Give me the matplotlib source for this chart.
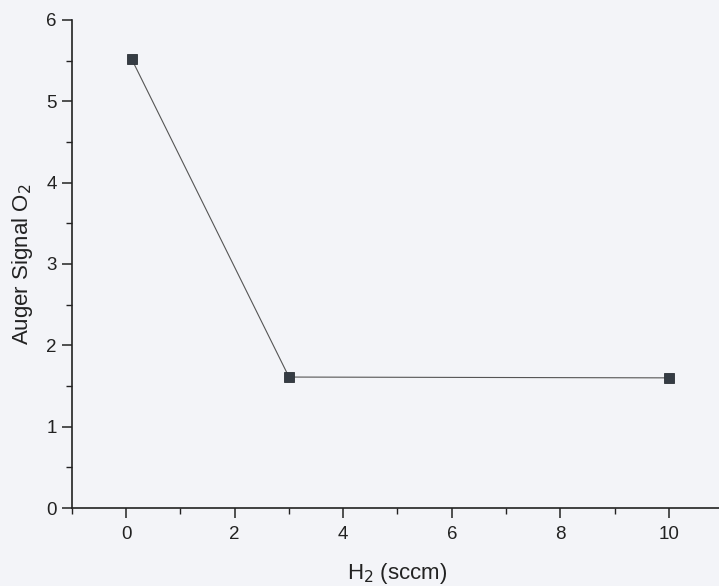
import numpy as np
import matplotlib.pyplot as plt
from matplotlib.ticker import MultipleLocator

# H2 flow vs Auger O2 signal
h2_flow = [0.1, 3.0, 10.0]
auger_o2 = [5.52, 1.61, 1.60]

plt.rcParams['font.family'] = ['Liberation Sans', 'DejaVu Sans']

bg = '#f3f4f8'
fig = plt.figure(figsize=(7.19, 5.86), dpi=100, facecolor=bg)
ax = fig.add_axes([0.1001, 0.1331, 0.9055, 0.8328], facecolor=bg)

ax.plot(h2_flow, auger_o2, color='#555555', linewidth=0.8,
        marker='s', markersize=7.5, markerfacecolor='#353c44',
        markeredgecolor='#2a3036', markeredgewidth=0.6)

ax.set_xlim(-1, 11)
ax.set_ylim(0, 6)
ax.xaxis.set_major_locator(MultipleLocator(2))
ax.xaxis.set_minor_locator(MultipleLocator(1))
ax.yaxis.set_major_locator(MultipleLocator(1))
ax.yaxis.set_minor_locator(MultipleLocator(0.5))

for s in ['top', 'right']:
    ax.spines[s].set_visible(False)
for s in ['left', 'bottom']:
    ax.spines[s].set_linewidth(1.2)
    ax.spines[s].set_color('#222222')

ax.tick_params(which='major', direction='out', length=7, width=1.1,
               labelsize=13.5, colors='#222222', pad=4)
ax.tick_params(axis='x', which='major', pad=6)
ax.tick_params(which='minor', direction='out', length=4, width=1.0,
               colors='#222222')

ax.set_xlabel('H$_2$ (sccm)', fontsize=16, color='#222222', labelpad=13)
ax.set_ylabel('Auger Signal O$_2$', fontsize=16, color='#222222', labelpad=8)

fig.savefig('out.png', dpi=100, facecolor=bg)
